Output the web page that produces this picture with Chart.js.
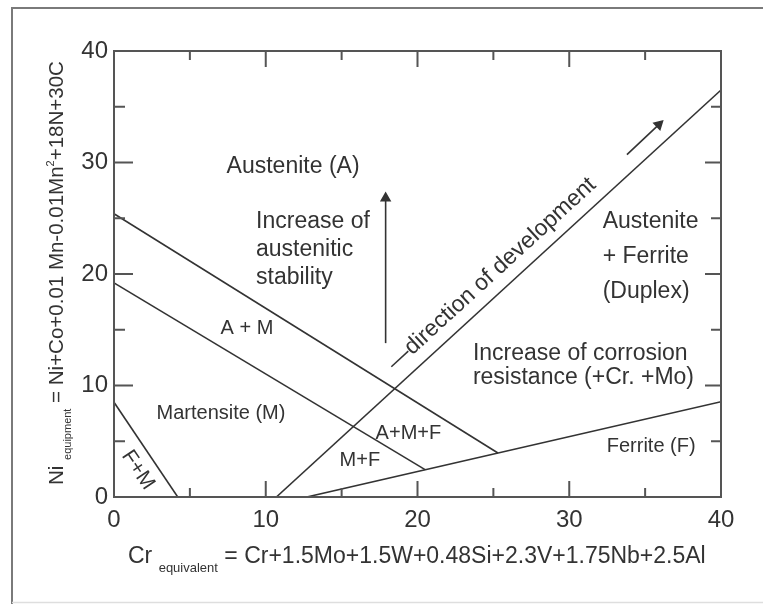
<!DOCTYPE html>
<html>
<head>
<meta charset="utf-8">
<script src="https://cdn.jsdelivr.net/npm/chart.js@4.4.1/dist/chart.umd.min.js"></script>
<style>
html, body { margin: 0; padding: 0; background: #fff; }
</style>
</head>
<body>
<canvas id="diagram" width="763" height="604"></canvas>
<script>
const FONT = "'Liberation Sans', Arial, Helvetica, sans-serif";
const INK = '#333';

// axis range / ticks
const axisTicks = [0, 10, 20, 30, 40];
const tickMarks = [5, 10, 15, 20, 25, 30, 35];

// phase boundaries (Cr eq, Ni eq)
const austeniteEdge = [{x: 0, y: 25.4}, {x: 25.3, y: 3.95}];
const martensiteEdge = [{x: 0, y: 19.2}, {x: 20.5, y: 2.45}];
const ferriteEdge = [{x: 12.7, y: 0}, {x: 40, y: 8.55}];
const duplexEdge = [{x: 10.7, y: 0}, {x: 40, y: 36.5}];
const fmEdge = [{x: 0, y: 8.5}, {x: 4.2, y: 0}];

// arrows
const stabilityArrow = [{x: 17.9, y: 13.8}, {x: 17.9, y: 26.8}];
const developmentArrow = [{x: 33.8, y: 30.7}, {x: 35.9, y: 33.4}];

// region names
const notes = [
    {lines: ['Austenite (A)'], x: 11.8, y: 29.6, size: 23, align: 'center'},
    {lines: ['Increase of', 'austenitic', 'stability'], x: 9.36, y: 24.66, size: 23, align: 'left', gap: 28},
    {lines: ['A + M'], x: 8.76, y: 15.1, size: 20, align: 'center'},
    {lines: ['Martensite (M)'], x: 7.05, y: 7.5, size: 20, align: 'center'},
    {lines: ['M+F'], x: 16.2, y: 3.3, size: 20, align: 'center'},
    {lines: ['A+M+F'], x: 19.4, y: 5.7, size: 20, align: 'center'},
    {lines: ['Austenite', '+ Ferrite', '(Duplex)'], x: 32.2, y: 24.66, size: 23, align: 'left', gap: 35},
    {lines: ['Increase of corrosion', 'resistance (+Cr. +Mo)'], x: 23.65, y: 12.9, size: 23, align: 'left', gap: 24},
    {lines: ['Ferrite (F)'], x: 35.4, y: 4.5, size: 20, align: 'center'}
];

function edge(data, extra) {
    return Object.assign({
        data: data,
        showLine: true,
        borderColor: INK,
        backgroundColor: INK,
        borderWidth: 1.6,
        pointRadius: 0,
        pointHoverRadius: 0
    }, extra || {});
}

function richText(ctx, parts, x, y) {
    let cx = x;
    parts.forEach(p => {
        ctx.font = p.size + 'px ' + FONT;
        ctx.fillText(p.t, cx, y + (p.dy || 0));
        cx += ctx.measureText(p.t).width;
    });
}

const decor = {
    id: 'decor',
    beforeDraw(chart) {
        const ctx = chart.ctx;
        ctx.save();
        ctx.fillStyle = '#fff';
        ctx.fillRect(0, 0, chart.width, chart.height);
        ctx.strokeStyle = '#7a7a7a';
        ctx.lineWidth = 2;
        ctx.beginPath();
        ctx.moveTo(12, chart.height);
        ctx.lineTo(12, 8);
        ctx.lineTo(chart.width, 8);
        ctx.stroke();
        ctx.strokeStyle = '#dedede';
        ctx.lineWidth = 1.5;
        ctx.beginPath();
        ctx.moveTo(12, 602.5);
        ctx.lineTo(chart.width, 602.5);
        ctx.stroke();
        ctx.restore();
    },
    afterDraw(chart) {
        const ctx = chart.ctx;
        const {left, right, top, bottom} = chart.chartArea;
        const xs = chart.scales.x, ys = chart.scales.y;
        ctx.save();

        // plot frame + inward ticks
        ctx.strokeStyle = '#555';
        ctx.lineWidth = 2;
        ctx.strokeRect(left, top, right - left, bottom - top);
        ctx.beginPath();
        tickMarks.forEach(v => {
            const major = v % 10 === 0;
            const px = xs.getPixelForValue(v);
            ctx.moveTo(px, bottom); ctx.lineTo(px, bottom - (major ? 16 : 9));
            ctx.moveTo(px, top); ctx.lineTo(px, top + (major ? 16 : 9));
            const py = ys.getPixelForValue(v);
            ctx.moveTo(left, py); ctx.lineTo(left + (major ? 19 : 11), py);
            ctx.moveTo(right, py); ctx.lineTo(right - (major ? 16 : 10), py);
        });
        ctx.stroke();

        // region names
        ctx.fillStyle = INK;
        ctx.textBaseline = 'middle';
        notes.forEach(n => {
            ctx.font = n.size + 'px ' + FONT;
            ctx.textAlign = n.align;
            const px = xs.getPixelForValue(n.x);
            const py = ys.getPixelForValue(n.y);
            n.lines.forEach((s, i) => ctx.fillText(s, px, py + i * (n.gap || 0)));
        });

        // rotated labels along boundaries
        const rotated = (text, data, x, y, size) => {
            const a = Math.atan2(
                ys.getPixelForValue(data[1].y) - ys.getPixelForValue(data[0].y),
                xs.getPixelForValue(data[1].x) - xs.getPixelForValue(data[0].x));
            ctx.save();
            ctx.translate(xs.getPixelForValue(x), ys.getPixelForValue(y));
            ctx.rotate(a);
            ctx.font = size + 'px ' + FONT;
            ctx.textAlign = 'center';
            ctx.fillText(text, 0, 0);
            ctx.restore();
        };
        rotated('\u2014direction of development', duplexEdge, 24.9, 20.0, 23);
        rotated('F+M', fmEdge, 1.58, 2.42, 21);

        // axis titles
        ctx.textAlign = 'left';
        ctx.textBaseline = 'alphabetic';
        richText(ctx, [
            {t: 'Cr ', size: 23},
            {t: 'equivalent', size: 13, dy: 9},
            {t: ' = Cr+1.5Mo+1.5W+0.48Si+2.3V+1.75Nb+2.5Al', size: 23}
        ], 128, 563);

        ctx.save();
        ctx.translate(63, 485);
        ctx.rotate(-Math.PI / 2);
        richText(ctx, [
            {t: 'Ni ', size: 20.5},
            {t: 'equipment', size: 11, dy: 8},
            {t: ' = Ni+Co+0.01 Mn-0.01Mn', size: 20.5},
            {t: '2', size: 11, dy: -9},
            {t: '+18N+30C', size: 20.5}
        ], 0, 0);
        ctx.restore();

        ctx.restore();
    }
};

new Chart(document.getElementById('diagram').getContext('2d'), {
    type: 'scatter',
    data: {
        datasets: [
            edge(austeniteEdge),
            edge(martensiteEdge),
            edge(ferriteEdge),
            edge(duplexEdge),
            edge(fmEdge),
            edge(stabilityArrow, {pointStyle: 'triangle', pointRadius: [0, 5], rotation: 0}),
            edge(developmentArrow, {pointStyle: 'triangle', pointRadius: [0, 5], rotation: 47})
        ]
    },
    options: {
        responsive: false,
        animation: false,
        layout: {padding: {top: 51, right: 42, left: 0, bottom: 0}},
        plugins: {legend: {display: false}, tooltip: {enabled: false}},
        scales: {
            x: {
                type: 'linear', min: 0, max: 40,
                afterBuildTicks: s => { s.ticks = axisTicks.map(v => ({value: v})); },
                afterFit: s => { s.height = 107; },
                grid: {display: false, drawTicks: false},
                border: {display: false},
                ticks: {padding: 9, color: INK, font: {family: FONT, size: 24}}
            },
            y: {
                type: 'linear', min: 0, max: 40,
                afterBuildTicks: s => { s.ticks = axisTicks.map(v => ({value: v})); },
                afterFit: s => { s.width = 114; },
                grid: {display: false, drawTicks: false},
                border: {display: false},
                ticks: {padding: 6, color: INK, font: {family: FONT, size: 24}}
            }
        }
    },
    plugins: [decor]
});
</script>
</body>
</html>
